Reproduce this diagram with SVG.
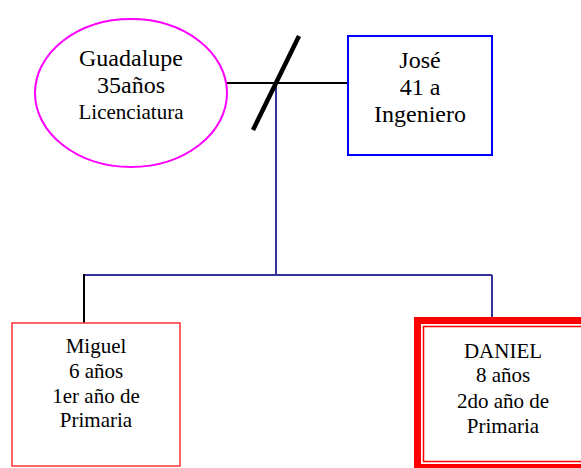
<svg xmlns="http://www.w3.org/2000/svg" width="581" height="468" viewBox="0 0 581 468">
<style>
text{fill:#000;text-anchor:middle}
.p{font-size:24px}
.s{font-size:21px}
.c{font-size:21px}
.nv{stroke:#333399;stroke-width:2;fill:none}
.bk{stroke:#000;stroke-width:2;fill:none}
</style>
<rect width="581" height="468" fill="#fff"/>
<g id="connectors">
<line class="bk" x1="227" y1="83" x2="348" y2="83"/>
<line class="nv" x1="276" y1="83" x2="276" y2="275"/>
<line class="nv" x1="84" y1="275" x2="492" y2="275"/>
<line class="bk" x1="84" y1="274" x2="84" y2="323"/>
<line class="nv" x1="492" y1="275" x2="492" y2="322"/>
<line x1="299" y1="36" x2="253" y2="130" stroke="#000" stroke-width="4.5"/>
</g>
<g font-family="Liberation Serif, DejaVu Serif, serif">
<g id="guadalupe">
<ellipse cx="131" cy="93" rx="96" ry="74" fill="none" stroke="#ff00ff" stroke-width="2"/>
<text class="p" x="131" y="66">Guadalupe</text>
<text class="p" x="131" y="93">35años</text>
<text class="s" x="131" y="119">Licenciatura</text>
</g>
<g id="jose">
<rect x="348" y="36" width="144" height="119" fill="none" stroke="#0000ff" stroke-width="2"/>
<text class="p" x="420" y="68">José</text>
<text class="p" x="420" y="95">41 a</text>
<text class="p" x="420" y="122">Ingeniero</text>
</g>
<g id="miguel">
<rect x="12" y="323" width="168" height="143" fill="none" stroke="#ff3333" stroke-width="1.5"/>
<text class="c" x="96" y="353">Miguel</text>
<text class="c" x="96" y="378">6 años</text>
<text class="c" x="96" y="403">1er año de</text>
<text class="c" x="96" y="427">Primaria</text>
</g>
<g id="daniel">
<rect x="417.5" y="320.5" width="175" height="147" fill="none" stroke="#ff0000" stroke-width="7"/>
<rect x="423.5" y="326.5" width="163" height="135" fill="none" stroke="#ff0000" stroke-width="1.5"/>
<text class="c" x="503" y="358">DANIEL</text>
<text class="c" x="503" y="382">8 años</text>
<text class="c" x="503" y="408">2do año de</text>
<text class="c" x="503" y="433">Primaria</text>
</g>
</g>
</svg>
